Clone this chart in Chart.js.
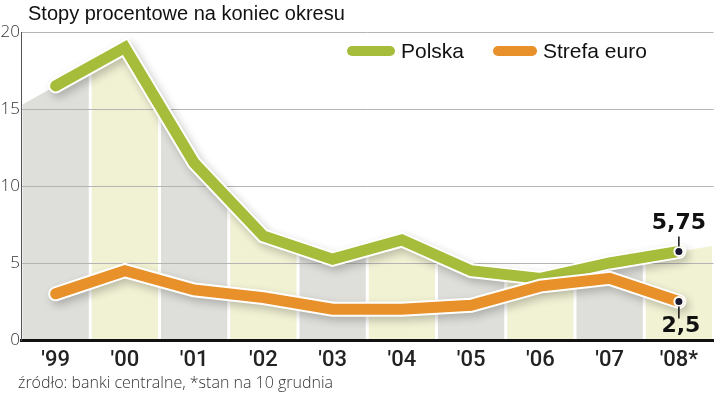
<!DOCTYPE html>
<html>
<head>
<meta charset="utf-8">
<script src="https://cdn.jsdelivr.net/npm/chart.js@4.4.1/dist/chart.umd.min.js"></script>
<style>
  html, body { margin: 0; padding: 0; background: #fff; }
  canvas { display: block; }
</style>
</head>
<body>
<canvas id="chart" width="720" height="395"></canvas>
<script>
const years = ["'99", "'00", "'01", "'02", "'03", "'04", "'05", "'06", "'07", "'08*"];
const polska = [16.5, 19, 11.5, 6.75, 5.25, 6.5, 4.5, 4, 5, 5.75];
const strefaEuro = [3, 4.5, 3.25, 2.75, 2, 2, 2.25, 3.5, 4, 2.5];
const endLabels = ['5,75', '2,5'];

const green = '#a6bd3c';
const orange = '#e8912a';
const stripeGray = '#dededa';
const stripeCream = '#f1f1d4';

const lastRadius = years.map((_, i) => i === years.length - 1 ? 4.5 : 0);

// stripes under the Polska line, drawn before the grid
const stripes = {
    id: 'stripes',
    beforeDraw(chart) {
        const ctx = chart.ctx;
        const pts = chart.getDatasetMeta(2).data;
        const { left, right, top, bottom } = chart.chartArea;
        const x = chart.scales.x;
        const n = pts.length;
        const yL = pts[0].y + (left - pts[0].x) * (pts[1].y - pts[0].y) / (pts[1].x - pts[0].x);
        const yR = pts[n - 1].y + (right - pts[n - 1].x) * (pts[n - 1].y - pts[n - 2].y) / (pts[n - 1].x - pts[n - 2].x);
        ctx.save();
        ctx.beginPath();
        ctx.moveTo(left, bottom);
        ctx.lineTo(left, yL);
        pts.forEach(p => ctx.lineTo(p.x, p.y));
        ctx.lineTo(right, yR);
        ctx.lineTo(right, bottom);
        ctx.closePath();
        ctx.clip();
        const w = x.getPixelForValue(1) - x.getPixelForValue(0);
        years.forEach((_, i) => {
            const cx = x.getPixelForValue(i);
            ctx.fillStyle = i % 2 ? stripeCream : stripeGray;
            ctx.fillRect(cx - w / 2 + 1.5, top, w - 3, bottom - top);
        });
        ctx.restore();
    }
};

// soft shadow behind the white outlines
const shadows = {
    id: 'shadows',
    beforeDatasetDraw(chart, args) {
        if (!args.meta._dataset.shadow) return;
        const ctx = chart.ctx;
        ctx.save();
        ctx.shadowColor = 'rgba(0,0,0,0.22)';
        ctx.shadowBlur = 9;
        ctx.shadowOffsetX = 3;
        ctx.shadowOffsetY = 4;
    },
    afterDatasetDraw(chart, args) {
        if (!args.meta._dataset.shadow) return;
        chart.ctx.restore();
    }
};

// title, legend, footer and end labels
const extras = {
    id: 'extras',
    afterDraw(chart) {
        const ctx = chart.ctx;
        ctx.save();
        ctx.fillStyle = '#111';
        ctx.textBaseline = 'alphabetic';
        ctx.textAlign = 'left';
        ctx.font = '20px "Liberation Sans", Arial, sans-serif';
        ctx.fillText('Stopy procentowe na koniec okresu', 28, 20);

        ctx.font = '300 16px "Open Sans", sans-serif';
        ctx.fillStyle = '#333';
        ctx.fillText('źródło: banki centralne, *stan na 10 grudnia', 18, 388);

        // legend
        const legend = [
            { ds: chart.data.datasets[2], x1: 347, x2: 395, tx: 401 },
            { ds: chart.data.datasets[0], x1: 493, x2: 537, tx: 543 }
        ];
        ctx.font = '21px "Liberation Sans", Arial, sans-serif';
        legend.forEach(item => {
            ctx.strokeStyle = item.ds.borderColor;
            ctx.lineWidth = 10;
            ctx.lineCap = 'round';
            ctx.beginPath();
            ctx.moveTo(item.x1 + 5, 51);
            ctx.lineTo(item.x2 - 5, 51);
            ctx.stroke();
            ctx.fillStyle = '#111';
            ctx.fillText(item.ds.label, item.tx, 58);
        });

        // end value labels
        const gp = chart.getDatasetMeta(2).data[years.length - 1];
        const op = chart.getDatasetMeta(0).data[years.length - 1];
        ctx.strokeStyle = '#111';
        ctx.lineWidth = 1.5;
        ctx.lineCap = 'butt';
        ctx.beginPath();
        ctx.moveTo(gp.x, gp.y - 5);
        ctx.lineTo(gp.x, gp.y - 15);
        ctx.moveTo(op.x, op.y + 5);
        ctx.lineTo(op.x, op.y + 17);
        ctx.stroke();
        ctx.font = 'bold 22px "DejaVu Sans", sans-serif';
        ctx.fillStyle = '#111';
        ctx.textAlign = 'center';
        ctx.textBaseline = 'middle';
        ctx.fillText(endLabels[0], gp.x, gp.y - 28);
        ctx.fillText(endLabels[1], op.x + 2, op.y + 25);
        ctx.restore();
    }
};

new Chart(document.getElementById('chart'), {
    type: 'line',
    data: {
        labels: years,
        datasets: [
            {
                label: 'Strefa euro',
                data: strefaEuro,
                borderColor: orange,
                borderWidth: 11,
                borderCapStyle: 'round',
                borderJoinStyle: 'miter',
                pointRadius: lastRadius,
                pointBackgroundColor: '#17172e',
                pointBorderColor: '#fff',
                pointBorderWidth: 2,
                tension: 0
            },
            {
                label: 'outline euro',
                data: strefaEuro,
                borderColor: '#fff',
                borderWidth: 15,
                borderCapStyle: 'round',
                borderJoinStyle: 'miter',
                pointRadius: 0,
                shadow: true,
                tension: 0
            },
            {
                label: 'Polska',
                data: polska,
                borderColor: green,
                borderWidth: 11,
                borderCapStyle: 'round',
                borderJoinStyle: 'miter',
                pointRadius: lastRadius,
                pointBackgroundColor: '#17172e',
                pointBorderColor: '#fff',
                pointBorderWidth: 2,
                tension: 0
            },
            {
                label: 'outline pl',
                data: polska,
                borderColor: '#fff',
                borderWidth: 15,
                borderCapStyle: 'round',
                borderJoinStyle: 'miter',
                pointRadius: 0,
                shadow: true,
                tension: 0
            }
        ]
    },
    options: {
        responsive: false,
        animation: false,
        layout: { padding: { top: 32, right: 2, left: 0, bottom: 0 } },
        plugins: {
            legend: { display: false },
            tooltip: { enabled: false },
            title: { display: false }
        },
        scales: {
            x: {
                offset: true,
                grid: { display: false, drawTicks: false },
                border: { display: true, color: '#111', width: 3 },
                ticks: {
                    color: '#222',
                    padding: 7,
                    font: { family: 'Roboto', size: 22, weight: '500' }
                },
                afterFit(scale) { scale.height = 55; }
            },
            y: {
                min: 0,
                max: 20,
                ticks: {
                    stepSize: 5,
                    color: '#333',
                    padding: 1,
                    font: { family: '"Open Sans"', size: 17, weight: '300' }
                },
                grid: { color: '#b4b4b4', lineWidth: 1, drawTicks: false },
                border: { display: true, color: '#555', width: 1 },
                afterFit(scale) { scale.width = 21; }
            }
        }
    },
    plugins: [stripes, shadows, extras]
});
</script>
</body>
</html>
